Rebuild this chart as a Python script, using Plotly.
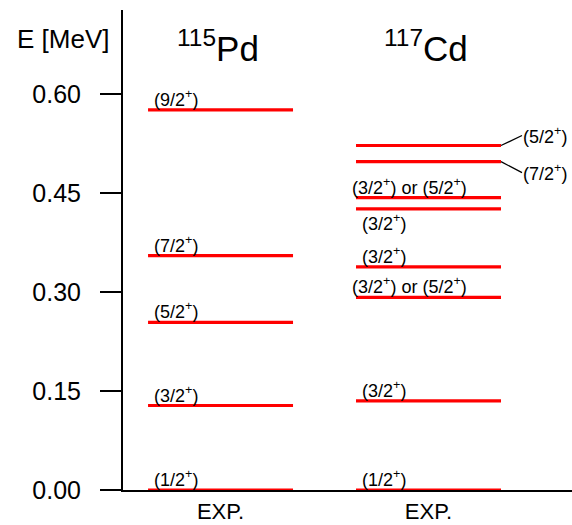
import plotly.graph_objects as go

# ---------------- data ----------------
nuclei = ["Pd", "Cd"]
nucleus_titles = ["<sup>115</sup>Pd", "<sup>117</sup>Cd"]
column_labels = ["EXP.", "EXP."]

pd_energies = [0.0, 0.128, 0.254, 0.355, 0.576]
pd_labels = ["(1/2<sup>+</sup>)", "(3/2<sup>+</sup>)", "(5/2<sup>+</sup>)",
             "(7/2<sup>+</sup>)", "(9/2<sup>+</sup>)"]

cd_energies = [0.0, 0.135, 0.292, 0.338, 0.426, 0.443, 0.4975, 0.522]
cd_labels = ["(1/2<sup>+</sup>)", "(3/2<sup>+</sup>)",
             "(3/2<sup>+</sup>) or (5/2<sup>+</sup>)", "(3/2<sup>+</sup>)",
             "(3/2<sup>+</sup>)", "(3/2<sup>+</sup>) or (5/2<sup>+</sup>)",
             "(7/2<sup>+</sup>)", "(5/2<sup>+</sup>)"]

y_tickvals = [0.0, 0.15, 0.30, 0.45, 0.60]
y_ticktext = ["0.00", "0.15", "0.30", "0.45", "0.60"]

# ---------------- styling / placement ----------------
pd_label_pos = ["above"] * 5
cd_label_pos = ["above", "above", "above_wide", "above", "below",
                "above_wide", "right_down", "right_up"]

col_center = [1, 2]
half_w = 0.3486
x_range = [0.531, 2.690]
y_range = [0.0, 0.7273]
FONT = "Liberation Sans, Arial, sans-serif"
RED = "#ff0000"
LABEL_SIZE = 18

fig = go.Figure()

annotations = []
columns = [(pd_energies, pd_labels, pd_label_pos), (cd_energies, cd_labels, cd_label_pos)]
for ci, (ens, labs, poss) in enumerate(columns):
    xc = col_center[ci]
    x0, x1 = xc - half_w, xc + half_w
    xs, ys = [], []
    for e in ens:
        xs += [x0, x1, None]
        ys += [e, e, None]
    fig.add_trace(go.Scatter(x=xs, y=ys, mode="lines",
                             line=dict(color=RED, width=3.2),
                             hoverinfo="skip", showlegend=False))
    for e, lab, pos in zip(ens, labs, poss):
        common = dict(text=lab, xref="x", yref="y", y=e,
                      font=dict(family=FONT, size=LABEL_SIZE, color="black"))
        if pos == "above":
            annotations.append(dict(common, x=x0, xanchor="left", yanchor="bottom",
                                    xshift=4, yshift=-2, showarrow=False))
        elif pos == "above_wide":
            annotations.append(dict(common, x=x0, xanchor="left", yanchor="bottom",
                                    xshift=-6, yshift=-2, showarrow=False))
        elif pos == "below":
            annotations.append(dict(common, x=x0, xanchor="left", yanchor="top",
                                    xshift=4, yshift=0, showarrow=False))
        elif pos in ("right_up", "right_down"):
            ay = -10 if pos == "right_up" else 11
            annotations.append(dict(common, x=x1, xanchor="left", yanchor="middle",
                                    showarrow=True, arrowhead=0, arrowwidth=1.3,
                                    arrowcolor="black", ax=21, ay=ay, standoff=0,
                                    borderpad=0))

# nucleus titles
for ci, t in enumerate(nucleus_titles):
    annotations.append(dict(text=t, xref="x", yref="paper", x=col_center[ci] - 0.01,
                            y=0.925, xanchor="center", yanchor="middle", showarrow=False,
                            font=dict(family=FONT, size=35, color="black")))

# axis title
annotations.append(dict(text="E [MeV]", xref="paper", yref="paper", x=-0.134, y=0.9396,
                        xanchor="center", yanchor="middle", showarrow=False,
                        font=dict(family=FONT, size=26, color="black")))

fig.update_layout(
    width=572, height=525,
    margin=dict(l=123, r=0, t=10, b=35, autoexpand=False),
    plot_bgcolor="white", paper_bgcolor="white",
    annotations=annotations,
    showlegend=False,
)
fig.update_xaxes(range=x_range, showgrid=False, zeroline=False, automargin=False,
                 showline=True, linecolor="black", linewidth=2,
                 tickvals=col_center, ticktext=column_labels, ticks="",
                 ticklabelstandoff=1,
                 tickfont=dict(family=FONT, size=22, color="black"))
fig.update_yaxes(range=y_range, showgrid=False, zeroline=False, automargin=False,
                 showline=True, linecolor="black", linewidth=2,
                 tickvals=y_tickvals, ticktext=y_ticktext,
                 ticks="outside", ticklen=21, tickwidth=2, tickcolor="black",
                 ticklabelstandoff=14,
                 tickfont=dict(family=FONT, size=25, color="black"))

fig.write_html("out.html")
